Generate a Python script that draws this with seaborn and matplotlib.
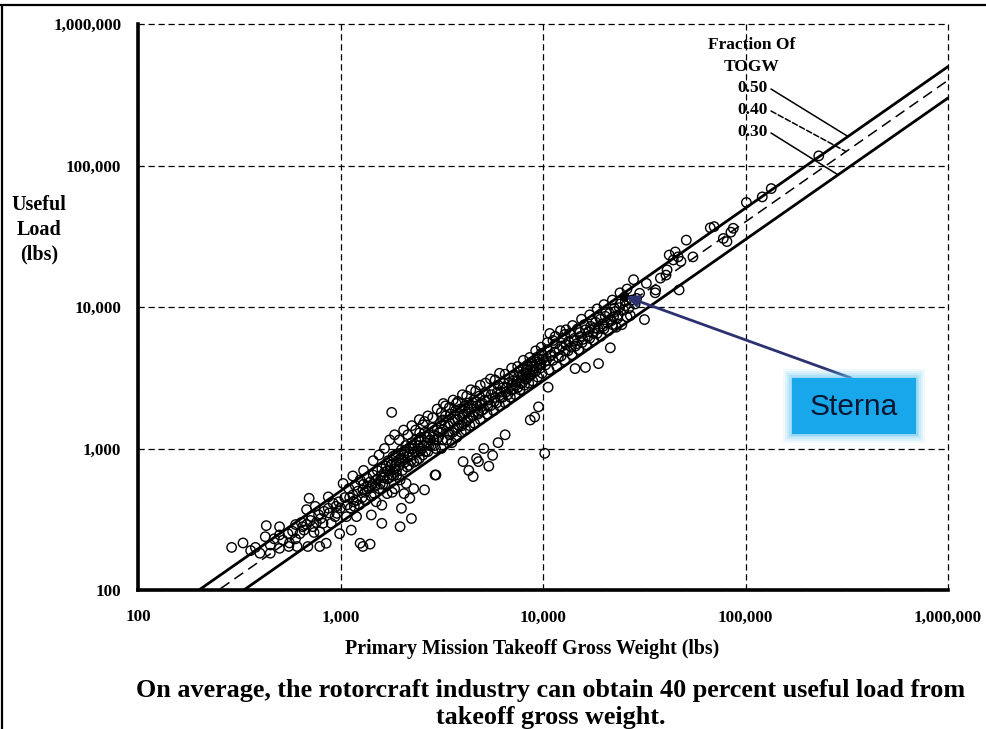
import matplotlib
matplotlib.use("Agg")
import matplotlib.pyplot as plt
import numpy as np
import pandas as pd
import seaborn as sns
from matplotlib.ticker import FixedLocator, FuncFormatter, NullLocator
from matplotlib.patches import FancyBboxPatch
from matplotlib.lines import Line2D

# Rotorcraft fleet survey: (primary mission takeoff gross weight, useful load), lbs
light_class = [(290, 200), (330, 215), (360, 190), (380, 200), (400, 182), (430, 285), (425, 238),
               (450, 208), (450, 182), (470, 230), (500, 280), (500, 245), (500, 197), (520, 225),
               (550, 250), (555, 203), (560, 215), (580, 260), (600, 230), (600, 290), (610, 203),
               (630, 250), (640, 300), (650, 280), (660, 265), (680, 370), (680, 290), (690, 203),
               (700, 445), (710, 310), (720, 330), (730, 280), (740, 255), (750, 390), (760, 300),
               (780, 340), (790, 203), (790, 258), (800, 320), (820, 296), (830, 360), (850, 214),
               (870, 455), (870, 378), (880, 350), (900, 296), (920, 410), (940, 330), (950, 390),
               (960, 348), (980, 420), (990, 250)]

small_class = [(1030, 566), (1050, 450), (1080, 400), (1100, 520), (1120, 380), (1130, 265),
               (1150, 470), (1160, 420), (1180, 550), (1200, 430), (1200, 330), (1220, 500),
               (1250, 214), (1250, 600), (1280, 450), (1290, 203), (1290, 510), (1300, 560),
               (1320, 490), (1350, 620), (1380, 520), (1400, 211), (1400, 580), (1420, 339),
               (1420, 460), (1450, 650), (1480, 540), (1500, 600), (1500, 420), (1520, 700),
               (1550, 520), (1580, 640), (1600, 296), (1600, 398), (1600, 720), (1620, 560),
               (1650, 680), (1680, 750), (1700, 610), (1700, 480), (1720, 820), (1750, 700),
               (1780, 650), (1790, 1800), (1800, 780), (1800, 490), (1820, 880), (1850, 720),
               (1850, 520), (1880, 800), (1900, 650), (1920, 920), (1950, 760), (1970, 280),
               (1970, 600), (1980, 850), (2000, 378), (2000, 980), (2020, 700), (2050, 900),
               (2060, 480), (2080, 800), (2100, 1050), (2110, 566), (2150, 870), (2180, 760),
               (2200, 445), (2200, 1000), (2240, 320), (2250, 1100), (2280, 900), (2300, 800),
               (2300, 520), (2350, 1150), (2400, 950), (2420, 1050), (2450, 850), (2460, 1290),
               (2500, 1200), (2520, 1000), (2550, 1470), (2550, 900), (2600, 510), (2600, 1300),
               (2650, 1100), (2700, 950), (2750, 1250), (2800, 1050), (2850, 1400), (2900, 1150),
               (2930, 650), (2950, 1000), (2960, 650), (3000, 1350)]

medium_class = [(3050, 1200), (3100, 1500), (3150, 1000), (3200, 1350), (3220, 2080), (3200, 1590),
                (3300, 1700), (3350, 1150), (3400, 1450), (3450, 1250), (3500, 1750), (3550, 1100),
                (3600, 1550), (3650, 1350), (3700, 1850), (3730, 2080), (3750, 1200), (3800, 1600),
                (3850, 1450), (3900, 1900), (3950, 1300), (4000, 1700), (4030, 808), (4050, 1500),
                (4100, 2000), (4150, 1350), (4200, 1800), (4250, 1600), (4300, 2100), (4300, 700),
                (4350, 1450), (4400, 1900), (4500, 1700), (4520, 633), (4550, 2200), (4600, 1500),
                (4700, 2000), (4700, 850), (4800, 1800), (4800, 808), (4850, 2350), (4900, 1600),
                (5000, 2100), (5100, 1900), (5100, 1000), (5200, 2500), (5300, 1750), (5400, 2200),
                (5400, 750), (5500, 2000), (5600, 2600), (5640, 894), (5700, 1850), (5800, 2300),
                (5900, 2100), (6000, 2800), (6000, 1100), (6100, 2000), (6200, 2500), (6300, 2300),
                (6400, 2900), (6500, 2100), (6500, 1250), (6600, 2700), (6700, 2400), (6800, 3100),
                (6900, 2300), (7000, 2800), (7100, 2600), (7200, 3300), (7300, 2400), (7400, 3000),
                (7500, 2700), (7600, 3500), (7700, 2600), (7800, 3200), (7900, 2900), (8000, 3700),
                (8100, 2800), (8200, 3400), (8300, 3100), (8400, 3900), (8500, 2900), (8600, 3600),
                (8650, 1590), (8700, 3300), (8800, 4100), (8900, 3000), (9000, 3800), (9100, 1670),
                (9200, 3500), (9300, 4400), (9400, 3200), (9500, 1970), (9600, 4000), (9700, 3700),
                (9800, 4700), (9900, 3400), (10000, 4300), (10200, 925)]

heavy_class = [(10300, 3900), (10500, 5000), (10600, 2710), (10700, 3600), (10800, 6500), (11000, 4600),
               (11200, 4200), (11200, 5800), (11500, 5500), (11700, 3800), (12000, 5000), (12200, 6800),
               (12300, 4500), (12500, 6000), (12800, 4200), (13000, 5400), (13000, 6900), (13300, 4900),
               (13600, 6500), (13900, 4600), (14200, 5800), (14400, 3670), (14500, 5300), (14800, 7000),
               (15000, 5000), (15300, 6200), (15600, 5600), (16000, 7500), (16200, 3740), (16400, 5400),
               (16800, 6700), (17000, 6000), (17500, 8000), (17800, 5800), (18000, 7100), (18500, 6500),
               (18800, 3980), (19000, 8500), (19300, 6200), (19700, 7600), (20000, 7000), (20500, 9200),
               (21000, 6800), (21500, 5150), (21500, 8200), (22000, 7500), (22500, 9800), (23000, 7200),
               (23500, 8800), (24000, 10500), (24500, 7500), (25000, 9500), (25500, 11000), (26000, 8500),
               (27000, 8700), (28000, 15600), (29000, 11500), (30000, 12500), (31700, 8150), (32400, 14700)]

large_class = [(35800, 12600), (36000, 13200), (38000, 16000), (40500, 16800), (41000, 18300),
               (42000, 23300), (44000, 21500), (45000, 24500), (46500, 22600), (47000, 13200),
               (48000, 21000), (51000, 29700), (55000, 22600), (67000, 36300), (70000, 37000),
               (77700, 30500), (81000, 29000), (84700, 33800), (87000, 36000), (101000, 54800),
               (121000, 60000), (134000, 68700), (230000, 117000)]

# high useful-load designs sitting above the 50 % line
high_fraction = [(1150, 640), (1300, 700), (1450, 820), (1550, 900), (1650, 1000), (1750, 1150),
                 (1850, 1250), (1950, 1150), (2050, 1350), (2150, 1250), (2250, 1450), (2350, 1350),
                 (2450, 1600), (2600, 1550), (2700, 1700), (2850, 1650), (3000, 1900), (3150, 1800),
                 (3300, 2000), (3450, 1950), (3600, 2200), (3800, 2150), (4000, 2400), (4200, 2350),
                 (4400, 2600), (4650, 2550), (4900, 2800), (5200, 2900), (5500, 3100), (5800, 3050),
                 (6100, 3400), (6500, 3350), (7000, 3700), (7500, 3800), (8000, 4200), (8600, 4400),
                 (9200, 4900), (9800, 5200), (10500, 5600), (11500, 6200), (12800, 6400), (14000, 7400),
                 (15500, 8200), (17000, 8800), (18500, 9700), (20000, 10400), (22000, 11200),
                 (24000, 12600), (26000, 13400)]

# remaining production types inside the 30-50 % band
mid_fraction = [(1000, 380), (1070, 330), (1110, 450), (1170, 390), (1240, 400), (1330, 430),
                (1360, 540), (1440, 560), (1470, 480), (1530, 610), (1570, 560), (1630, 620),
                (1660, 560), (1710, 700), (1740, 620), (1770, 760), (1830, 640), (1870, 900),
                (1890, 700), (1940, 830), (2030, 820), (2070, 960), (2130, 740), (2170, 950),
                (2230, 820), (2270, 1000), (2330, 950), (2380, 820), (2440, 1150), (2480, 960),
                (2580, 1050), (2630, 950), (2680, 1200), (2730, 1050), (2780, 1150), (2880, 1250),
                (2920, 1050), (2980, 1150), (3080, 1300), (3180, 1150), (3280, 1450), (3380, 1300),
                (3480, 1500), (3580, 1300), (3680, 1600), (3780, 1400), (3880, 1700), (3980, 1450),
                (4080, 1750), (4180, 1550), (4280, 1900), (4380, 1650), (4480, 2000), (4580, 1800),
                (4680, 2150), (4780, 1750), (4880, 2050), (4980, 1850), (5150, 2200), (5350, 2000),
                (5550, 2400), (5750, 2150), (5950, 2500), (6150, 2300), (6350, 2700), (6550, 2500),
                (6750, 2900), (6950, 2600), (7150, 3000), (7350, 2800), (7550, 3200), (7750, 2900),
                (7950, 3300), (8150, 3100), (8350, 3600), (8550, 3300), (8750, 3800), (8950, 3500),
                (9150, 4100), (9350, 3700), (9550, 4300), (9750, 3900), (9950, 4600), (10400, 4200),
                (10900, 4500), (11400, 4800), (11900, 4400), (12400, 5300), (12900, 4900), (13400, 5700),
                (13800, 5200), (14300, 6000), (14700, 5500), (15200, 6600), (15700, 5900), (16200, 6900),
                (16700, 6200), (17200, 7300), (17700, 6500), (18200, 7800), (18700, 7000), (19200, 8200),
                (19800, 7300), (20300, 8600), (20800, 7700), (21300, 9000), (21800, 8000), (22300, 8500),
                (22800, 9300), (23300, 8300), (23800, 9900), (25500, 10200), (26500, 9800),
                (27500, 11200), (28500, 10500)]

sterna_gw, sterna_ul = 25000, 12000

togw_fractions = [0.50, 0.40, 0.30]
fraction_labels = ["0.50", "0.40", "0.30"]
decade_ticks = [100, 1000, 10000, 100000, 1000000]

SERIF = "Liberation Serif"

sns.set_theme(style="white")
plt.rcParams["font.family"] = [SERIF, "DejaVu Serif"]
plt.rcParams["text.color"] = "black"

W, H = 986, 729
fig = plt.figure(figsize=(W / 100, H / 100), dpi=100)
fig.patch.set_facecolor("white")
ax = fig.add_axes([138 / W, 1 - 590 / H, 810 / W, 566 / H])

fleet = pd.DataFrame(light_class + small_class + medium_class + heavy_class + large_class
                     + high_fraction + mid_fraction,
                     columns=["gross_weight", "useful_load"])

ax.set_xscale("log")
ax.set_yscale("log")
ax.set_xlim(decade_ticks[0], decade_ticks[-1])
ax.set_ylim(decade_ticks[0], decade_ticks[-1])

sns.scatterplot(data=fleet, x="gross_weight", y="useful_load", marker="o", s=46,
                color="black", linewidth=1.0, ax=ax, zorder=4)
pts = ax.collections[-1]
pts.set_facecolor("none")
pts.set_edgecolor("black")

# constant-fraction reference lines, drawn over the fleet points
span = np.array([decade_ticks[0], decade_ticks[-1]], dtype=float)
styles = {0.50: dict(lw=2.0, ls="-"), 0.40: dict(lw=1.1, ls=(0, (7, 4))), 0.30: dict(lw=2.0, ls="-")}
for frac in togw_fractions:
    line_df = pd.DataFrame({"gw": span, "ul": span * frac})
    sns.lineplot(data=line_df, x="gw", y="ul", color="black", linewidth=styles[frac]["lw"],
                 linestyle=styles[frac]["ls"], ax=ax, zorder=5)

sns.scatterplot(x=[sterna_gw], y=[sterna_ul], marker="o", s=44, color="black",
                edgecolor="black", ax=ax, zorder=6)

# axes dressing
ax.xaxis.set_major_locator(FixedLocator(decade_ticks))
ax.yaxis.set_major_locator(FixedLocator(decade_ticks))
ax.xaxis.set_minor_locator(NullLocator())
ax.yaxis.set_minor_locator(NullLocator())
fmt = FuncFormatter(lambda v, _: f"{int(round(v)):,}")
ax.xaxis.set_major_formatter(fmt)
ax.yaxis.set_major_formatter(fmt)
ax.tick_params(axis="both", which="major", direction="in", length=5, width=1.5, color="black")
ax.tick_params(axis="y", pad=12)
ax.tick_params(axis="x", pad=14)
for lab in ax.get_xticklabels() + ax.get_yticklabels():
    lab.set_fontfamily(SERIF)
    lab.set_fontweight("bold")
    lab.set_fontsize(12.3)
    lab.set_color("black")

ax.grid(True, which="major", color="black", linestyle=(0, (5, 3)), linewidth=0.9)
for gl in ax.get_xgridlines() + ax.get_ygridlines():
    gl.set_clip_on(False)
ax.set_axisbelow(True)
for side in ("top", "right"):
    ax.spines[side].set_visible(False)
for side in ("left", "bottom"):
    ax.spines[side].set_visible(True)
    ax.spines[side].set_linewidth(2.6)
    ax.spines[side].set_color("black")
ax.set_xlabel("")
ax.set_ylabel("")

def fx(px):
    return px / W

def fy(py):
    return 1 - py / H

fig.text(fx(39), fy(230), "Useful\nLoad\n(lbs)", ha="center", va="center", fontsize=14.5,
         fontweight="bold", family=SERIF, linespacing=1.3, color="black")
fig.text(fx(532), fy(649), "Primary Mission Takeoff Gross Weight (lbs)", ha="center", va="center",
         fontsize=14.3, fontweight="bold", family=SERIF, color="black")
fig.text(fx(551), fy(704), "On average, the rotorcraft industry can obtain 40 percent useful load from\n"
         "takeoff gross weight.", ha="center", va="center", fontsize=18.8, fontweight="bold",
         family=SERIF, linespacing=1.2, color="black")

# fraction-of-TOGW key with leader lines onto each reference line
fig.text(fx(752), fy(56), "Fraction Of\nTOGW", ha="center", va="center", fontsize=12.5,
         fontweight="bold", family=SERIF, linespacing=1.5, color="black")
label_rows = [88, 110, 132]
leader_gw = [320700, 313500, 286400]
for lab, frac, row, gw in zip(fraction_labels, togw_fractions, label_rows, leader_gw):
    fig.text(fx(768), fy(row), lab, ha="right", va="center", fontsize=12.5, fontweight="bold",
             family=SERIF, color="black")
    ax.annotate("", xy=(gw, gw * frac), xycoords="data",
                xytext=(fx(771), fy(row + 1)), textcoords="figure fraction",
                arrowprops=dict(arrowstyle="-", color="black", lw=1.1,
                                linestyle="--" if frac == 0.40 else "-",
                                shrinkA=0, shrinkB=0))

# Sterna call-out box with soft glow
bx0, by0, bw, bh = 792, 378, 124, 56
for grow, alpha in [(9, 0.10), (7, 0.14), (5, 0.18), (3, 0.25), (1.5, 0.35)]:
    fig.patches.append(FancyBboxPatch((fx(bx0 - grow), fy(by0 + bh + grow)), (bw + 2 * grow) / W,
                                      (bh + 2 * grow) / H, boxstyle="square,pad=0",
                                      transform=fig.transFigure, facecolor="#6cc8f2",
                                      edgecolor="none", alpha=alpha, zorder=6))
fig.patches.append(FancyBboxPatch((fx(bx0), fy(by0 + bh)), bw / W, bh / H, boxstyle="square,pad=0",
                                  transform=fig.transFigure, facecolor="#17a7ea",
                                  edgecolor="none", zorder=7))
fig.text(fx(bx0 + bw / 2), fy(by0 + bh / 2 + 1), "Sterna", ha="center", va="center",
         fontsize=21.5, family="Liberation Sans", color="#0b1733", zorder=8)
ax.annotate("", xy=(sterna_gw, sterna_ul), xycoords="data",
            xytext=(fx(851), fy(378)), textcoords="figure fraction",
            arrowprops=dict(arrowstyle="-|>,head_length=0.6,head_width=0.3", color="#2c3170",
                            lw=2.0, shrinkA=0, shrinkB=2), zorder=7)

# outer frame of the slide
fig.add_artist(Line2D([0, 1], [fy(5), fy(5)], transform=fig.transFigure, color="black", lw=1.6))
fig.add_artist(Line2D([fx(1.5), fx(1.5)], [0, fy(5)], transform=fig.transFigure, color="black", lw=1.6))

fig.savefig("out.png", dpi=100)
